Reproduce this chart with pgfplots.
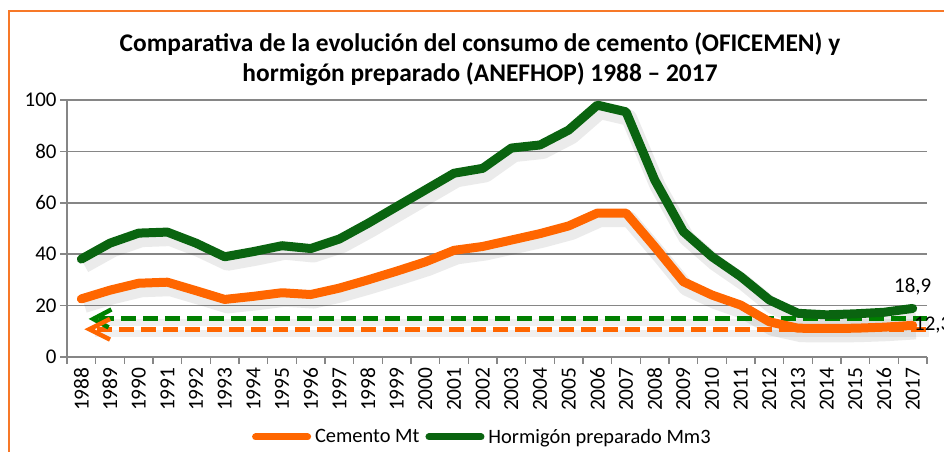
\documentclass[border=0pt]{standalone}
\usepackage{pgfplots}
\pgfplotsset{compat=1.18}
\usepackage{pgfplotstable}
\usepackage{fontspec}
\setmainfont{Carlito}
\definecolor{cemOrange}{RGB}{255,102,0}
\definecolor{hormGreen}{RGB}{10,100,16}
\definecolor{dashGreen}{RGB}{0,128,0}
\definecolor{gridGray}{RGB}{134,134,134}
\definecolor{frameOrange}{RGB}{247,120,40}

\pgfplotstableread{
x cem horm
0 22.6 38.1
1 26.0 44.3
2 28.7 48.2
3 29.1 48.6
4 25.8 44.3
5 22.4 39.0
6 23.6 41.0
7 25.0 43.3
8 24.3 42.2
9 26.8 45.9
10 30.0 52.0
11 33.4 58.5
12 37.0 65.0
13 41.5 71.5
14 43.0 73.4
15 45.5 81.3
16 48.0 82.5
17 51.0 88.3
18 56.0 98.0
19 56.0 95.4
20 42.9 68.9
21 29.3 48.8
22 24.1 39.0
23 20.2 31.3
24 13.7 22.2
25 11.2 17.0
26 11.1 16.4
27 11.2 16.8
28 11.6 17.4
29 12.3 18.9
}\datatable

\begin{document}
\begin{tikzpicture}[x=1bp,y=1bp]
\useasboundingbox (0,0) rectangle (944,452);
\draw[frameOrange, line width=2bp] (9,0) -- (9,441) -- (944,441);
\node[font=\fontsize{25.5}{30}\selectfont\bfseries, align=center] at (480,393) {Comparativa de la evolución del consumo de cemento (OFICEMEN) y\\hormigón preparado (ANEFHOP) 1988 – 2017};
\begin{axis}[
  at={(67bp,95bp)}, anchor=south west,
  scale only axis, width=860bp, height=257bp,
  xmin=-0.5, xmax=29.5, ymin=0, ymax=100,
  axis x line*=bottom, axis y line*=left,
  axis line style={gridGray, line width=1.5bp, -},
  ytick={0,20,...,100},
  ymajorgrids, grid style={gridGray, line width=1.5bp},
  xtick={0,...,29},
  xticklabels={1988,1989,1990,1991,1992,1993,1994,1995,1996,1997,1998,1999,2000,2001,2002,2003,2004,2005,2006,2007,2008,2009,2010,2011,2012,2013,2014,2015,2016,2017},
  x tick label style={rotate=90, anchor=east, font=\fontsize{21.5}{24}\selectfont},
  y tick label style={font=\fontsize{21}{24}\selectfont},
  /pgf/number format/assume math mode=true,
  major x tick style={draw=none},
  minor xtick={-0.5,0.5,...,29.5},
  minor x tick style={gridGray, line width=1.5bp},
  minor tick length=7bp,
  major y tick style={gridGray, line width=1.5bp},
  major tick length=7bp,
  tick align=outside,
  xtick pos=bottom, ytick pos=left,
  clip=false,
  legend columns=2,
  legend style={at={(0.215,-0.311)}, anchor=west, draw=none, fill=none,
    font=\fontsize{20.5}{24}\selectfont, column sep=2bp, inner sep=0pt,
    /tikz/every even column/.append style={column sep=4bp}},
  legend image code/.code={\draw[#1, line width=7bp, line cap=round] (0bp,0bp) -- (52bp,0bp);},
]
% shadows
\addplot[black, opacity=0.08, line width=16bp, line join=round, shift={(3bp,-6bp)}, forget plot] table[x=x,y=cem] {\datatable};
\addplot[black, opacity=0.08, line width=16bp, line join=round, shift={(3bp,-6bp)}, forget plot] table[x=x,y=horm] {\datatable};
\addplot[black, opacity=0.06, line width=7bp, shift={(2bp,-4bp)}, forget plot] coordinates {(0.4,10.8) (29.5,10.8)};
\addplot[black, opacity=0.06, line width=7bp, shift={(2bp,-4bp)}, forget plot] coordinates {(0.45,14.8) (29.5,14.8)};
% dashed reference lines
\addplot[dashGreen, line width=5bp, dash pattern=on 15bp off 7bp, forget plot] coordinates {(0.62,14.8) (29.5,14.8)};
\addplot[cemOrange, line width=5bp, dash pattern=on 15bp off 7bp, forget plot] coordinates {(0.55,10.8) (29.5,10.8)};
\addplot[dashGreen, line width=4.5bp, line join=miter, forget plot] coordinates {(1.05,18.5) (0.42,14.8) (0.95,11.5)};
\addplot[cemOrange, line width=4.5bp, line join=miter, forget plot] coordinates {(1.0,14.8) (0.28,10.8) (1.0,6.8)};
% main series
\addplot[cemOrange, line width=9bp, line join=round, line cap=round] table[x=x,y=cem] {\datatable};
\addlegendentry{Cemento Mt}
\addplot[hormGreen, line width=9bp, line join=round, line cap=round] table[x=x,y=horm] {\datatable};
\addlegendentry{Hormigón preparado Mm3}
% data labels
\node[font=\fontsize{21}{24}\selectfont, anchor=south] at (axis cs:29,18.9) [yshift=10bp] {18,9};
\node[font=\fontsize{21}{24}\selectfont, anchor=west] at (axis cs:29,12.3) [xshift=-2bp] {12,3};
\end{axis}
\end{tikzpicture}
\end{document}
